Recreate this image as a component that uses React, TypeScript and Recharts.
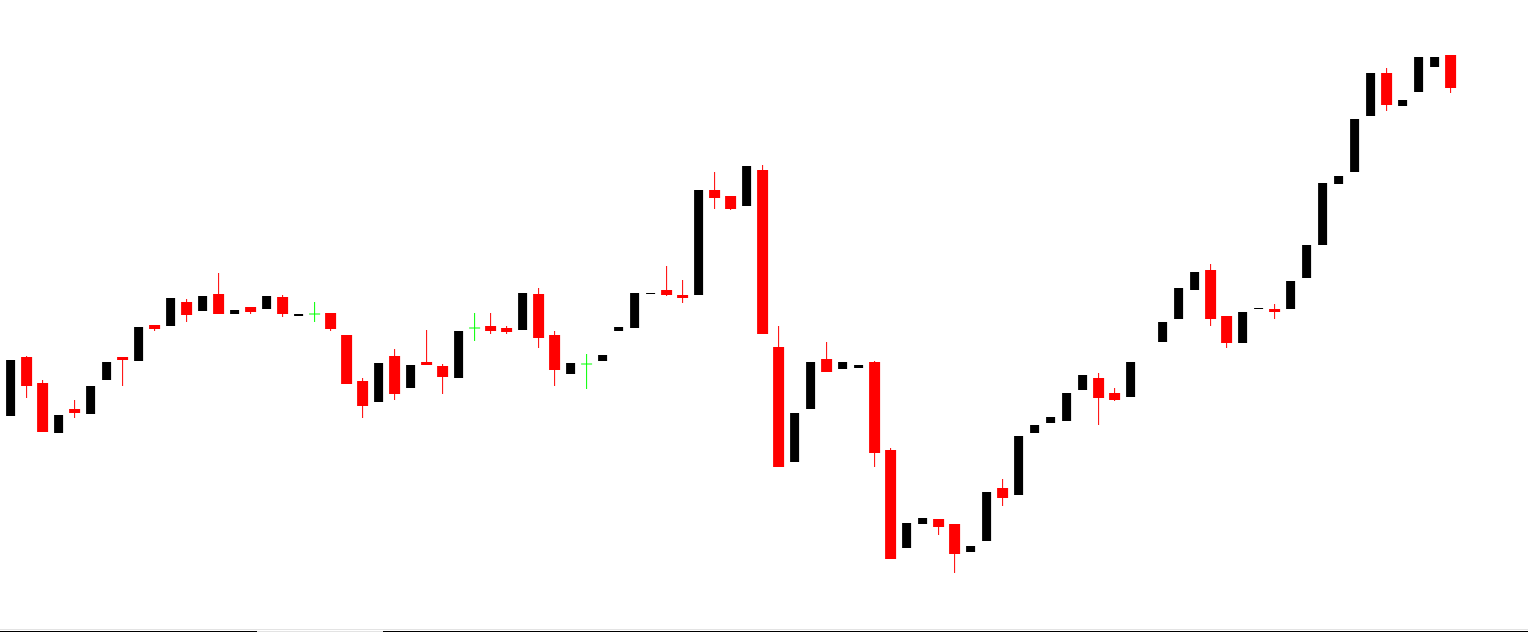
import React from "react";
import { BarChart, Bar, XAxis, YAxis } from "recharts";

// price-like units, one entry per session (null = empty slot)
const opens: (number | null)[] = [
  216, 275, 249, 199, 223, 218, 252, 275, 271, 307, 306, 330, 321, 338, 318, 325, 323, 335, 316, 318,
  319, 297, 251, 230, 276, 244, 270, 266, 254, 304, 306, 304, 302, 338, 297, 258, 268, 271, 301, 304,
  338, 342, 337, 337, 442, 436, 426, 462, 285, 170, 223, 273, 263, 264, 270, 182, 84, 108, 113, 108,
  80, 91, 144, 137, 199, 209, 211, 242, 254, 239, 235, null, 290, 313, 342, 362, 316, 289, 323, 323,
  323, 354, 387, 448, 460, 516, 559, 526, 540, 565, 577,
];
const closes: (number | null)[] = [
  272, 246, 200, 217, 219, 246, 270, 272, 305, 303, 334, 317, 336, 318, 322, 320, 336, 318, 318, 318,
  303, 248, 226, 269, 238, 267, 267, 255, 301, 304, 301, 300, 339, 294, 262, 269, 268, 277, 305, 339,
  339, 337, 334, 442, 434, 423, 466, 298, 165, 219, 270, 260, 270, 267, 179, 73, 109, 114, 105, 78,
  86, 140, 134, 196, 207, 215, 239, 257, 234, 232, 270, null, 310, 344, 360, 313, 289, 320, 324, 320,
  351, 387, 449, 456, 513, 559, 527, 532, 575, 575, 544,
];
const highs: (number | null)[] = [
  272, 276, 252, 217, 232, 246, 270, 275, 305, 307, 334, 333, 336, 359, 322, 325, 336, 337, 318, 330,
  319, 297, 254, 269, 283, 267, 302, 268, 301, 319, 319, 306, 339, 344, 301, 269, 278, 277, 305, 339,
  339, 366, 352, 442, 460, 436, 466, 467, 306, 219, 270, 290, 270, 267, 271, 184, 109, 114, 113, 108,
  86, 140, 153, 196, 207, 215, 239, 257, 259, 244, 270, null, 310, 344, 360, 368, 316, 320, 324, 328,
  351, 387, 449, 456, 513, 559, 564, 532, 575, 575, 577,
];
const lows: (number | null)[] = [
  216, 234, 200, 199, 214, 218, 252, 246, 271, 301, 306, 310, 321, 318, 318, 318, 323, 315, 316, 310,
  301, 248, 214, 230, 232, 244, 267, 238, 254, 291, 298, 298, 302, 284, 246, 258, 243, 271, 301, 304,
  338, 336, 329, 337, 423, 422, 426, 298, 165, 170, 223, 260, 263, 264, 165, 73, 84, 108, 97, 59,
  80, 91, 126, 137, 199, 209, 211, 242, 207, 231, 235, null, 290, 313, 342, 306, 284, 289, 323, 313,
  323, 354, 387, 448, 460, 516, 521, 526, 540, 565, 539,
];

const UP = "#000000";
const DOWN = "#ff0000";
const FLAT = "#00ff00";

type Candle = {
  idx: number;
  open: number | null;
  close: number | null;
  high: number | null;
  low: number | null;
};

const data: Candle[] = opens.map((o, i) => ({
  idx: i,
  open: o,
  close: closes[i],
  high: highs[i],
  low: lows[i],
}));

const CandleShape = (props: any) => {
  const { x, y, width, height, payload } = props;
  if (payload == null || payload.high == null) return null;
  const { open, close, high, low } = payload as Candle;
  const top = Math.min(y, y + height);
  const h = Math.abs(height);
  const range = (high as number) - (low as number);
  const per = range > 0 ? h / range : 0;
  const cx = x + width / 2;
  const toY = (v: number) => top + ((high as number) - v) * per;

  if (open === close) {
    const yy = toY(open as number);
    return (
      <g>
        <rect x={cx - 0.5} y={top} width={1} height={Math.max(h, 1)} fill={FLAT} />
        <rect x={cx - 5.5} y={yy - 0.5} width={11} height={1} fill={FLAT} />
      </g>
    );
  }

  const up = (close as number) > (open as number);
  const bTop = toY(Math.max(open as number, close as number));
  const bBot = toY(Math.min(open as number, close as number));
  const bh = Math.max(bBot - bTop, 1);

  if (up) {
    return <rect x={cx - 4.5} y={bTop} width={9} height={bh} fill={UP} />;
  }
  return (
    <g>
      <rect x={cx - 0.5} y={top} width={1} height={h} fill={DOWN} />
      <rect x={cx - 5.5} y={bTop} width={11} height={bh} fill={DOWN} />
    </g>
  );
};

export default function App() {
  return (
    <div style={{ position: "absolute", left: 0, top: 0, width: 1528, height: 632, background: "#fff" }}>
      <BarChart
        width={1528}
        height={632}
        data={data}
        margin={{ top: 0, right: 69.5, bottom: 0, left: 2.5 }}
      >
        <XAxis dataKey="idx" hide />
        <YAxis hide domain={[0, 632]} allowDataOverflow />
        <Bar
          dataKey={(d: Candle) => (d.high == null ? null : [d.low, d.high])}
          shape={<CandleShape />}
          isAnimationActive={false}
        />
      </BarChart>
      <div style={{ position: "absolute", left: 0, top: 629, width: 1528, height: 1, background: "#e3e3e3" }} />
      <div style={{ position: "absolute", left: 0, top: 631, width: 257, height: 1, background: "#000" }} />
      <div style={{ position: "absolute", left: 257, top: 631, width: 126, height: 1, background: "#e3e3e3" }} />
      <div style={{ position: "absolute", left: 383, top: 631, width: 1145, height: 1, background: "#000" }} />
    </div>
  );
}
